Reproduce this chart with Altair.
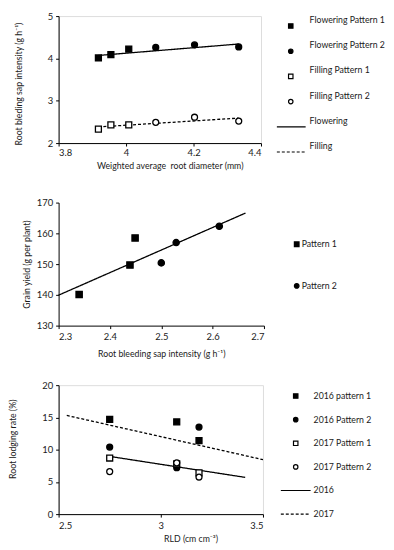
import altair as alt
import pandas as pd

FONT = "Lato"

# ---------------- Panel 1 data ----------------
p1_series = ["Flowering Pattern 1", "Flowering Pattern 2", "Filling Pattern 1", "Filling Pattern 2"]
p1_x = [[3.918, 3.955, 4.008], [4.088, 4.203, 4.334], [3.918, 3.955, 4.008], [4.088, 4.203, 4.334]]
p1_y = [[4.01, 4.09, 4.22], [4.26, 4.32, 4.27], [2.33, 2.43, 2.43], [2.49, 2.61, 2.52]]
p1_lines = ["Flowering", "Filling"]
p1_line_x = [3.918, 4.334]
p1_line_y = [[4.07, 4.34], [2.38, 2.59]]
p1_x_ticks = [3.8, 4.0, 4.2, 4.4]
p1_y_ticks = [2, 3, 4, 5]

# ---------------- Panel 2 data ----------------
p2_series = ["Pattern 1", "Pattern 2"]
p2_x = [[2.34, 2.439, 2.449], [2.50, 2.529, 2.613]]
p2_y = [[140.1, 149.7, 158.5], [150.4, 157.0, 162.3]]
p2_line_x = [2.30, 2.664]
p2_line_y = [139.9, 166.6]
p2_x_ticks = [2.3, 2.4, 2.5, 2.6, 2.7]
p2_y_ticks = [130, 140, 150, 160, 170]

# ---------------- Panel 3 data ----------------
p3_series = ["2016 pattern 1", "2016 Pattern 2", "2017 Pattern 1", "2017 Pattern 2"]
p3_x = [[2.75, 3.078, 3.187], [2.75, 3.078, 3.187], [2.75, 3.078, 3.187], [2.75, 3.078, 3.187]]
p3_y = [[14.7, 14.3, 11.4], [10.4, 7.2, 13.5], [8.7, 7.8, 6.4], [6.6, 7.95, 5.75]]
p3_lines = ["2016", "2017"]
p3_line_x = [[2.75, 3.413], [2.54, 3.5]]
p3_line_y = [[8.95, 5.7], [15.3, 8.45]]
p3_x_ticks = [2.5, 3.0, 3.5]
p3_y_ticks = [0, 5, 10, 15, 20]

SHAPES4 = ["square", "circle", "square", "circle"]
FILLS4 = ["black", "black", "white", "white"]
DASHES = [[1, 0], [3, 2]]
TXT = "#1a1a1a"


def points_df(series, xs, ys):
    rows = []
    for s, xx, yy in zip(series, xs, ys):
        for a, b in zip(xx, yy):
            rows.append({"series": s, "x": a, "y": b})
    return pd.DataFrame(rows)


def lines_df(names, xs, ys):
    rows = []
    for n, xx, yy in zip(names, xs, ys):
        for a, b in zip(xx, yy):
            rows.append({"line": n, "x": a, "y": b})
    return pd.DataFrame(rows)


def axis(values, title, **kw):
    opts = dict(values=values, format="~r", grid=False, title=title,
                domainColor="black", tickColor="black", tickSize=3,
                labelFont=FONT, labelFontSize=9.5, labelColor=TXT,
                titleFont=FONT, titleFontSize=8.8, titleFontWeight="normal",
                titleColor=TXT, labelPadding=3)
    opts.update(kw)
    return alt.Axis(**opts)


def main_layers(pdf, ldf, series, shapes, fills, lines, dashes, xdom, xt, xtitle, ydom, yt, ytitle,
                xkw, ykw, size):
    xenc = alt.X("x:Q", scale=alt.Scale(domain=xdom, nice=False, zero=False), axis=axis(xt, xtitle, **xkw))
    yenc = alt.Y("y:Q", scale=alt.Scale(domain=ydom, nice=False, zero=False), axis=axis(yt, ytitle, **ykw))
    ln = alt.Chart(ldf).mark_line(color="black", strokeWidth=1.3).encode(
        x=xenc, y=yenc, detail="line:N",
        strokeDash=alt.StrokeDash("line:N", scale=alt.Scale(domain=lines, range=dashes), legend=None),
    )
    pts = alt.Chart(pdf).mark_point(filled=True, stroke="black", strokeWidth=1.3, opacity=1, size=size).encode(
        x=xenc, y=yenc,
        shape=alt.Shape("series:N", scale=alt.Scale(domain=series, range=shapes), legend=None),
        fill=alt.Fill("series:N", scale=alt.Scale(domain=series, range=fills), legend=None),
    )
    return alt.layer(ln, pts)


def legend_layers(series, shapes, fills, lines, dashes, yrange, sym_x, line_x0, line_x1, text_x, text_dy, sym_size):
    labels = series + lines
    yl = alt.Y("label:N", scale=alt.Scale(type="point", domain=labels, range=yrange, padding=0), axis=None)
    sdf = pd.DataFrame({"label": series})
    ldf = pd.DataFrame({"label": lines})
    tdf = pd.DataFrame({"label": labels})
    syms = alt.Chart(sdf).mark_point(filled=True, stroke="black", strokeWidth=1.2, opacity=1, size=sym_size).encode(
        x=alt.value(sym_x), y=yl,
        shape=alt.Shape("label:N", scale=alt.Scale(domain=series, range=shapes), legend=None),
        fill=alt.Fill("label:N", scale=alt.Scale(domain=series, range=fills), legend=None),
    )
    layers = [syms]
    if lines:
        rules = alt.Chart(ldf).mark_rule(color="black", strokeWidth=1.2).encode(
            x=alt.value(line_x0), x2=alt.value(line_x1), y=yl,
            strokeDash=alt.StrokeDash("label:N", scale=alt.Scale(domain=lines, range=dashes), legend=None),
        )
        layers.append(rules)
    txt = alt.Chart(tdf).mark_text(align="left", baseline="middle", font=FONT, fontSize=8.8,
                                   color=TXT, dy=text_dy).encode(
        x=alt.value(text_x), y=yl, text="label:N")
    layers.append(txt)
    return alt.layer(*layers)


# Panel 1
W1, H1 = 204, 128
m1 = main_layers(points_df(p1_series, p1_x, p1_y), lines_df(p1_lines, [p1_line_x, p1_line_x], p1_line_y),
                 p1_series, SHAPES4, FILLS4, p1_lines, DASHES,
                 [3.8, 4.4], p1_x_ticks, "Weighted average\u00a0 root diameter (mm)",
                 [2, 5], p1_y_ticks, "Root bleding sap intensity (g h\u207b\u00b9)",
                 dict(titleX=112, titleY=23, titleBaseline="middle", labelPadding=2),
                 dict(titleX=-40, titleY=68, titleBaseline="middle", titleAngle=-90), 36)
l1 = legend_layers(p1_series, SHAPES4, FILLS4, p1_lines, DASHES, [10, 137], 234, 220, 249, 253, -6, 20)
c1 = alt.layer(m1, l1).resolve_scale(y="independent", shape="independent", fill="independent",
                                     strokeDash="independent").properties(width=W1, height=H1)

# Panel 2
W2, H2 = 207, 124
p2_ldf = pd.DataFrame({"line": ["fit", "fit"], "x": p2_line_x, "y": p2_line_y})
m2 = main_layers(points_df(p2_series, p2_x, p2_y), p2_ldf,
                 p2_series, ["square", "circle"], ["black", "black"], ["fit"], [[1, 0]],
                 [2.3, 2.7], p2_x_ticks, "Root bleeding sap intensity (g h\u207b\u00b9)",
                 [130, 170], p2_y_ticks, "Grain yield (g per plant)",
                 dict(titleY=28, titleBaseline="middle"),
                 dict(titleX=-32, titleY=62, titleBaseline="middle", titleAngle=-90), 40)
l2 = legend_layers(p2_series, ["square", "circle"], ["black", "black"], [], [], [42, 84], 240, 0, 0, 245, 0, 22)
c2 = alt.layer(m2, l2).resolve_scale(y="independent", shape="independent", fill="independent",
                                     strokeDash="independent").properties(
    width=W2, height=H2, view=alt.ViewBackground(stroke="transparent"))

# Panel 3
W3, H3 = 206, 130
m3 = main_layers(points_df(p3_series, p3_x, p3_y), lines_df(p3_lines, p3_line_x, p3_line_y),
                 p3_series, SHAPES4, FILLS4, p3_lines, DASHES,
                 [2.5, 3.5], p3_x_ticks, "RLD (cm cm\u207b\u00b3)",
                 [0, 20], p3_y_ticks, "Root lodging rate (%)",
                 dict(titleX=133, titleY=25, titleBaseline="middle"),
                 dict(titleX=-46, titleY=54, titleBaseline="middle", titleAngle=-90), 36)
l3 = legend_layers(p3_series, SHAPES4, FILLS4, p3_lines, DASHES, [11, 130], 239, 224, 254, 257, 0, 20)
c3 = alt.layer(m3, l3).resolve_scale(y="independent", shape="independent", fill="independent",
                                     strokeDash="independent").properties(width=W3, height=H3)

chart = alt.vconcat(c1, c2, c3, spacing=60, bounds="flush").properties(
    padding={"left": 0, "top": 0, "right": 0, "bottom": 0}
).configure_view(stroke="black", strokeWidth=1.2).configure(background="white")

chart.save("out.html", embed_options={"renderer": "svg", "actions": False})
